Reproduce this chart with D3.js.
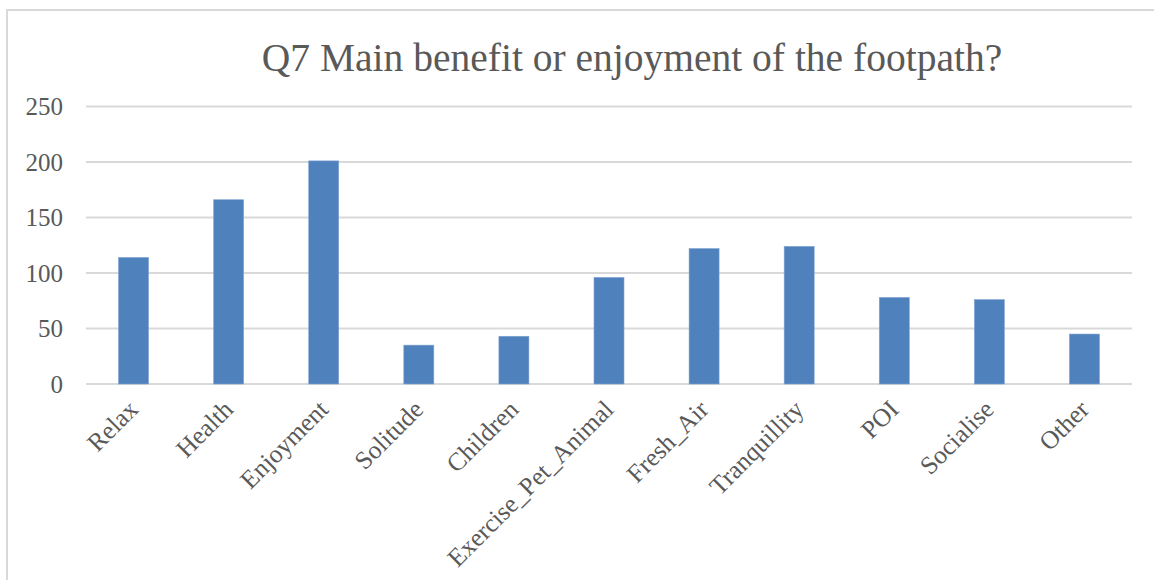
<!DOCTYPE html>
<html>
<head>
<meta charset="utf-8">
<script src="https://cdn.jsdelivr.net/npm/d3@7"></script>
<style>
  html, body { margin: 0; padding: 0; background: #ffffff; }
  svg { display: block; }
</style>
</head>
<body>
<svg id="chart" width="1154" height="580"></svg>
<script>
// Survey responses: main benefit or enjoyment of the footpath
const categories = ["Relax", "Health", "Enjoyment", "Solitude", "Children",
  "Exercise_Pet_Animal", "Fresh_Air", "Tranquillity", "POI", "Socialise", "Other"];
const counts = [114, 166, 201, 35, 43, 96, 122, 124, 78, 76, 45];
const yTicks = [0, 50, 100, 150, 200, 250];
const titleText = "Q7 Main benefit or enjoyment of the footpath?";

const W = 1154, H = 580;
const margin = { left: 86, right: 22, top: 106.5, bottom: 196 };
const fontFamily = "'Liberation Serif', 'Times New Roman', serif";
const textColor = "#595959";
const gridColor = "#d9d9d9";
const barColor = "#4f81bd";

const svg = d3.select("#chart");

// chart frame (left and top edges)
svg.append("path")
  .attr("d", `M7,${H} L7,10 L${W},10`)
  .attr("fill", "none")
  .attr("stroke", gridColor)
  .attr("stroke-width", 2);

const x = d3.scaleBand()
  .domain(categories)
  .range([margin.left, W - margin.right])
  .padding(0);

const y = d3.scaleLinear()
  .domain([0, 250])
  .range([H - margin.bottom, margin.top]);

// horizontal gridlines
svg.append("g")
  .selectAll("line")
  .data(yTicks)
  .join("line")
  .attr("x1", margin.left)
  .attr("x2", W - margin.right)
  .attr("y1", d => y(d))
  .attr("y2", d => y(d))
  .attr("stroke", gridColor)
  .attr("stroke-width", 2);

// y axis labels
const yAxis = d3.axisLeft(y).tickValues(yTicks).tickSize(0).tickPadding(23);
svg.append("g")
  .attr("transform", `translate(${margin.left},0)`)
  .call(yAxis)
  .call(g => g.select(".domain").remove())
  .call(g => g.selectAll("text")
    .attr("font-family", fontFamily)
    .attr("font-size", 25)
    .attr("fill", textColor));

// bars
const barFrac = 0.3155;
const barW = x.bandwidth() * barFrac;
svg.append("g")
  .selectAll("rect")
  .data(categories.map((c, i) => ({ c, v: counts[i] })))
  .join("rect")
  .attr("x", d => x(d.c) + (x.bandwidth() - barW) / 2)
  .attr("y", d => y(d.v))
  .attr("width", barW)
  .attr("height", d => y(0) - y(d.v))
  .attr("fill", barColor)
  .attr("stroke", "#7fa3d1")
  .attr("stroke-width", 0.6);

// rotated category labels
svg.append("g")
  .selectAll("text")
  .data(categories)
  .join("text")
  .attr("transform", d => `translate(${x(d) + x.bandwidth() / 2 + 6},${y(0) + 27}) rotate(-45)`)
  .attr("text-anchor", "end")
  .attr("font-family", fontFamily)
  .attr("font-size", 25.5)
  .attr("fill", textColor)
  .text(d => d);

// title
svg.append("text")
  .attr("x", 632)
  .attr("y", 71)
  .attr("text-anchor", "middle")
  .attr("font-family", fontFamily)
  .attr("font-size", 39.5)
  .attr("fill", textColor)
  .text(titleText);
</script>
</body>
</html>
